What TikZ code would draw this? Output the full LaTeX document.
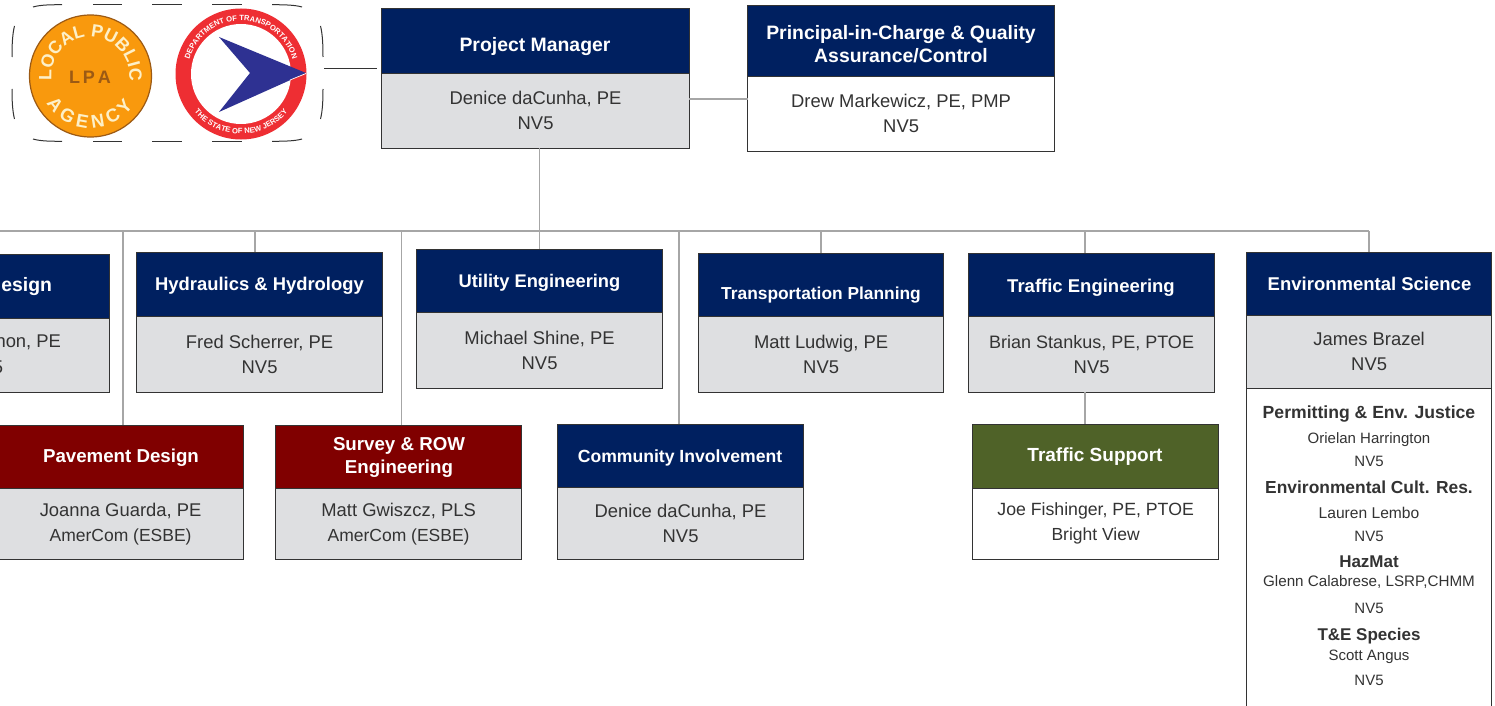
\documentclass[tikz,border=0pt]{standalone}
\usepackage{fontspec}
\setmainfont{Liberation Sans}
\usetikzlibrary{decorations.text}
\definecolor{navyhead}{HTML}{002060}
\definecolor{maroonhead}{HTML}{800000}
\definecolor{olivehead}{HTML}{4F6228}
\definecolor{bodygrey}{HTML}{DEDFE1}
\definecolor{inkline}{HTML}{333333}
\definecolor{inktext}{HTML}{333333}
\definecolor{wirecol}{HTML}{A6A6A6}
\definecolor{lpaorange}{HTML}{F9990D}
\definecolor{lpabrown}{HTML}{9C5A14}
\definecolor{lpacream}{HTML}{FDF0C8}
\definecolor{dotred}{HTML}{EE2E33}
\definecolor{dotblue}{HTML}{2E3192}
\tikzset{
  every node/.style={inner sep=0pt,outer sep=0pt},
  boxbase/.style={draw=inkline,line width=1pt,align=center},
  headnavy/.style={boxbase,fill=navyhead},
  headmaroon/.style={boxbase,fill=maroonhead},
  headolive/.style={boxbase,fill=olivehead},
  bodyg/.style={boxbase,fill=bodygrey,text=inktext,font=\fontsize{18.4}{25}\selectfont},
  bodyw/.style={bodyg,fill=white},
  wire/.style={draw=wirecol,line width=1.5pt},
  titletext/.style={text=white,align=center},
  listhead/.style={text=inktext},
  listtext/.style={text=inktext},
  cliptext/.style={anchor=east},
}
% name, x1, x2, y1, y2, style, text
\newcommand\rbox[7]{%
  \pgfmathsetmacro\bw{#3-(#2)+0.6}\pgfmathsetmacro\bh{#5-(#4)}%
  \pgfmathsetmacro\bx{(#2+#3)/2+0.1}\pgfmathsetmacro\by{(#4+#5)/2+0.2}%
  \node[#6,minimum width=\bw pt,minimum height=\bh pt] (#1) at (\bx,\by) {#7};%
}
% name, x, y, size, text
\newcommand\ttl[5]{\node[titletext,font=\fontsize{#4}{23}\selectfont\bfseries] (#1) at (#2,#3) {#5};}
\newcommand\lhead[4]{\node[listhead,font=\fontsize{#3}{20}\selectfont\bfseries] (#1) at (1369,#2) {#4};}
\newcommand\ltext[4]{\node[listtext,font=\fontsize{#3}{18}\selectfont] (#1) at (1369,#2) {#4};}
\newcommand\sz[1]{\fontsize{#1}{25}\selectfont}
\begin{document}
\begin{tikzpicture}[x=1pt,y=-1pt]
\clip (0,0) rectangle (1495,706);
\fill[white] (0,0) rectangle (1495,706);

% trunk points
\coordinate (tL) at (0,231);
\coordinate (tR) at (1369,231);
\coordinate (tA) at (123,231);
\coordinate (tC) at (401.5,231);
\coordinate (tE) at (679,231);
\coordinate (tH) at (255,231);
\coordinate (tF) at (1085,231);
\coordinate (lpaEnd) at (377,69);
\coordinate (lpaStart) at (324,69);

% boxes
\rbox{pmH}{382}{689}{8}{73}{headnavy}{}
\ttl{pmT}{535}{47}{19.4}{Project Manager}
\rbox{pmB}{382}{689}{73}{148}{bodyg}{Denice daCunha, PE\\NV5}
\rbox{picH}{748}{1054}{5}{76}{headnavy}{}
\ttl{picT}{901}{44}{19.4}{Principal-in-Charge \& Quality\\Assurance/Control}
\rbox{picB}{748}{1054}{76}{151}{bodyw}{Drew Markewicz, PE, PMP\\NV5}

\rbox{desH}{-136}{109}{254}{318}{headnavy}{}
\rbox{desB}{-136}{109}{318}{392}{bodyg}{}
\node[cliptext,text=white,font=\fontsize{19.4}{22}\selectfont\bfseries] (desT) at (52,287) {esign};
\node[cliptext,text=inktext,font=\fontsize{18.4}{25}\selectfont] (desN) at (61,342) {non, PE};
\node[cliptext,text=inktext,font=\fontsize{18.4}{25}\selectfont] (desF) at (3,367.5) {NV5};

\rbox{hydH}{137}{382}{252}{316}{headnavy}{}
\ttl{hydT}{259.5}{285.5}{18.4}{Hydraulics \& Hydrology}
\rbox{hydB}{137}{382}{316}{392}{bodyg}{Fred Scherrer, PE\\NV5}
\rbox{utiH}{417}{662}{249}{312}{headnavy}{}
\ttl{utiT}{539.5}{282.5}{18.3}{Utility Engineering}
\rbox{utiB}{417}{662}{312}{388}{bodyg}{Michael Shine, PE\\NV5}
\rbox{traH}{699}{943}{253}{316}{headnavy}{}
\ttl{traT}{821}{295}{17.35}{Transportation Planning}
\rbox{traB}{699}{943}{316}{392}{bodyg}{Matt Ludwig, PE\\NV5}
\rbox{tfcH}{969}{1214}{253}{316}{headnavy}{}
\ttl{tfcT}{1091}{287.5}{18.5}{Traffic Engineering}
\rbox{tfcB}{969}{1214}{316}{392}{bodyg}{\sz{18}Brian Stankus, PE, PTOE\\NV5}
\rbox{envH}{1247}{1491}{252}{315}{headnavy}{}
\ttl{envT}{1369.5}{284}{18.5}{Environmental Science}
\rbox{envB}{1247}{1491}{315}{388}{bodyg}{James Brazel\\NV5}
\rbox{envL}{1247}{1491}{388}{730}{bodyw}{}

\rbox{pavH}{-2}{243}{425}{488}{headmaroon}{}
\ttl{pavT}{121}{457.5}{18.7}{Pavement Design}
\rbox{pavB}{-2}{243}{488}{559}{bodyg}{Joanna Guarda, PE\\\sz{17.5}AmerCom (ESBE)}
\rbox{surH}{276}{521}{425}{488}{headmaroon}{}
\ttl{surT}{399}{457.5}{18.7}{Survey \& ROW\\Engineering}
\rbox{surB}{276}{521}{488}{559}{bodyg}{Matt Gwiszcz, PLS\\\sz{17.5}AmerCom (ESBE)}
\rbox{comH}{558}{803}{424}{487}{headnavy}{}
\ttl{comT}{680}{457.5}{17.6}{Community Involvement}
\rbox{comB}{558}{803}{487}{559}{bodyg}{Denice daCunha, PE\\NV5}
\rbox{supH}{973}{1218}{424}{488}{headolive}{}
\ttl{supT}{1095}{457}{19}{Traffic Support}
\rbox{supB}{973}{1218}{488}{559}{bodyw}{\sz{17.7}Joe Fishinger, PE, PTOE\\\sz{17.5}Bright View}

% environmental list
\lhead{l1}{414}{17.6}{Permitting \& Env. Justice}
\ltext{l2}{439.5}{15}{Orielan Harrington}
\ltext{l3}{461.5}{15}{NV5}
\lhead{l4}{487.5}{17.4}{Environmental Cult. Res.}
\ltext{l5}{513}{15.6}{Lauren Lembo}
\ltext{l6}{536.5}{15}{NV5}
\lhead{l7}{561.5}{17}{HazMat}
\ltext{l8}{581.5}{15.2}{Glenn Calabrese, LSRP,CHMM}
\ltext{l9}{608.5}{15}{NV5}
\lhead{l10}{636}{17}{T\&E Species}
\ltext{l11}{657}{15}{Scott Angus}
\ltext{l12}{680.5}{15}{NV5}

% connectors
\draw[wire] (tL) -- (tR);
\draw[wire,line width=2.4pt] (tR) -- (tR |- envH.north);
\draw[wire] (pmB.south -| utiH.north) -- (utiH.north);
\draw[wire] (pmB.east |- 0,99) -- (picB.west |- 0,99);
\draw[wire] (tA) -- (tA |- pavH.north);
\draw[wire] (tC) -- (tC |- surH.north);
\draw[wire] (tE) -- (tE |- comH.north);
\draw[wire] (tH) -- (tH |- hydH.north);
\draw[wire] (traH.north |- tL) -- (traH.north);
\draw[wire] (tF) -- (tF |- tfcH.north);
\draw[wire] (tF |- tfcB.south) -- (tF |- supH.north);
\draw[draw=inkline,line width=1pt] (lpaStart) -- (lpaEnd);

% dashed frame
\begin{scope}[draw=inkline,line width=1pt]
\draw (33,7) .. controls (40,5) and (48,4.7) .. (62,4.7);
\draw (93,4.7) -- (122,4.7) (152,4.7) -- (182,4.7) (212,4.7) -- (242,4.7);
\draw (272,4.7) .. controls (285,4.7) and (295,5) .. (302,7);
\draw (14.5,26) .. controls (12.5,34) and (12,44) .. (12,57);
\draw (14.5,119) .. controls (12.5,111) and (12,101) .. (12,89);
\draw (320.5,26) .. controls (322.5,34) and (323,44) .. (323,57);
\draw (320.5,119) .. controls (322.5,111) and (323,101) .. (323,89);
\draw (33,139) .. controls (40,141) and (48,141.3) .. (62,141.3);
\draw (93,141.3) -- (122,141.3) (152,141.3) -- (182,141.3) (212,141.3) -- (242,141.3);
\draw (272,141.3) .. controls (285,141.3) and (295,141) .. (302,139);
\end{scope}

% LPA logo
\begin{scope}
\clip (0,0) rectangle (152.5,150);
\fill[lpaorange,draw=lpabrown,line width=1.2pt] (90.5,76) circle (61);
\end{scope}
\node[text=lpabrown,font=\fontsize{18}{20}\selectfont\bfseries] (lpaT) at (90,77) {L\,P\,A};
\begin{scope}[x=1pt,y=1pt,shift={(90.5,-76)}]
\path[decorate,decoration={text along path,text align=center,
  text={|\fontsize{17.8}{18}\selectfont\bfseries\color{lpacream}|LOCAL PUBLIC}}]
  (190:39) arc[start angle=190,end angle=-10,radius=39];
\path[decorate,decoration={text along path,text align=fit to path,
  text={|\fontsize{18.5}{20}\selectfont\bfseries\color{lpacream}|AGENCY}}]
  (212:52) arc[start angle=212,end angle=325,radius=52];
\end{scope}

% NJDOT logo
\fill[dotred] (241,74) circle (65.5);
\fill[white] (241,74) circle (50);
\begin{scope}[x=1pt,y=1pt,shift={(241,-74)}]
\path[decorate,decoration={text along path,text align=center,
  text={|\fontsize{7.6}{8}\selectfont\bfseries\color{white}|DEPARTMENT OF TRANSPORTATION}}]
  (172:53.5) arc[start angle=172,end angle=8,radius=53.5];
\path[decorate,decoration={text along path,text align=center,
  text={|\fontsize{7.6}{8}\selectfont\bfseries\color{white}|THE STATE OF NEW JERSEY}}]
  (207:60) arc[start angle=207,end angle=333,radius=60];
\end{scope}
\fill[dotblue] (219,37) -- (306,73) -- (219,112) -- (250,73) -- cycle;
\draw[white,line width=0.7pt] (290,80) -- (306,73.5);
\end{tikzpicture}
\end{document}
